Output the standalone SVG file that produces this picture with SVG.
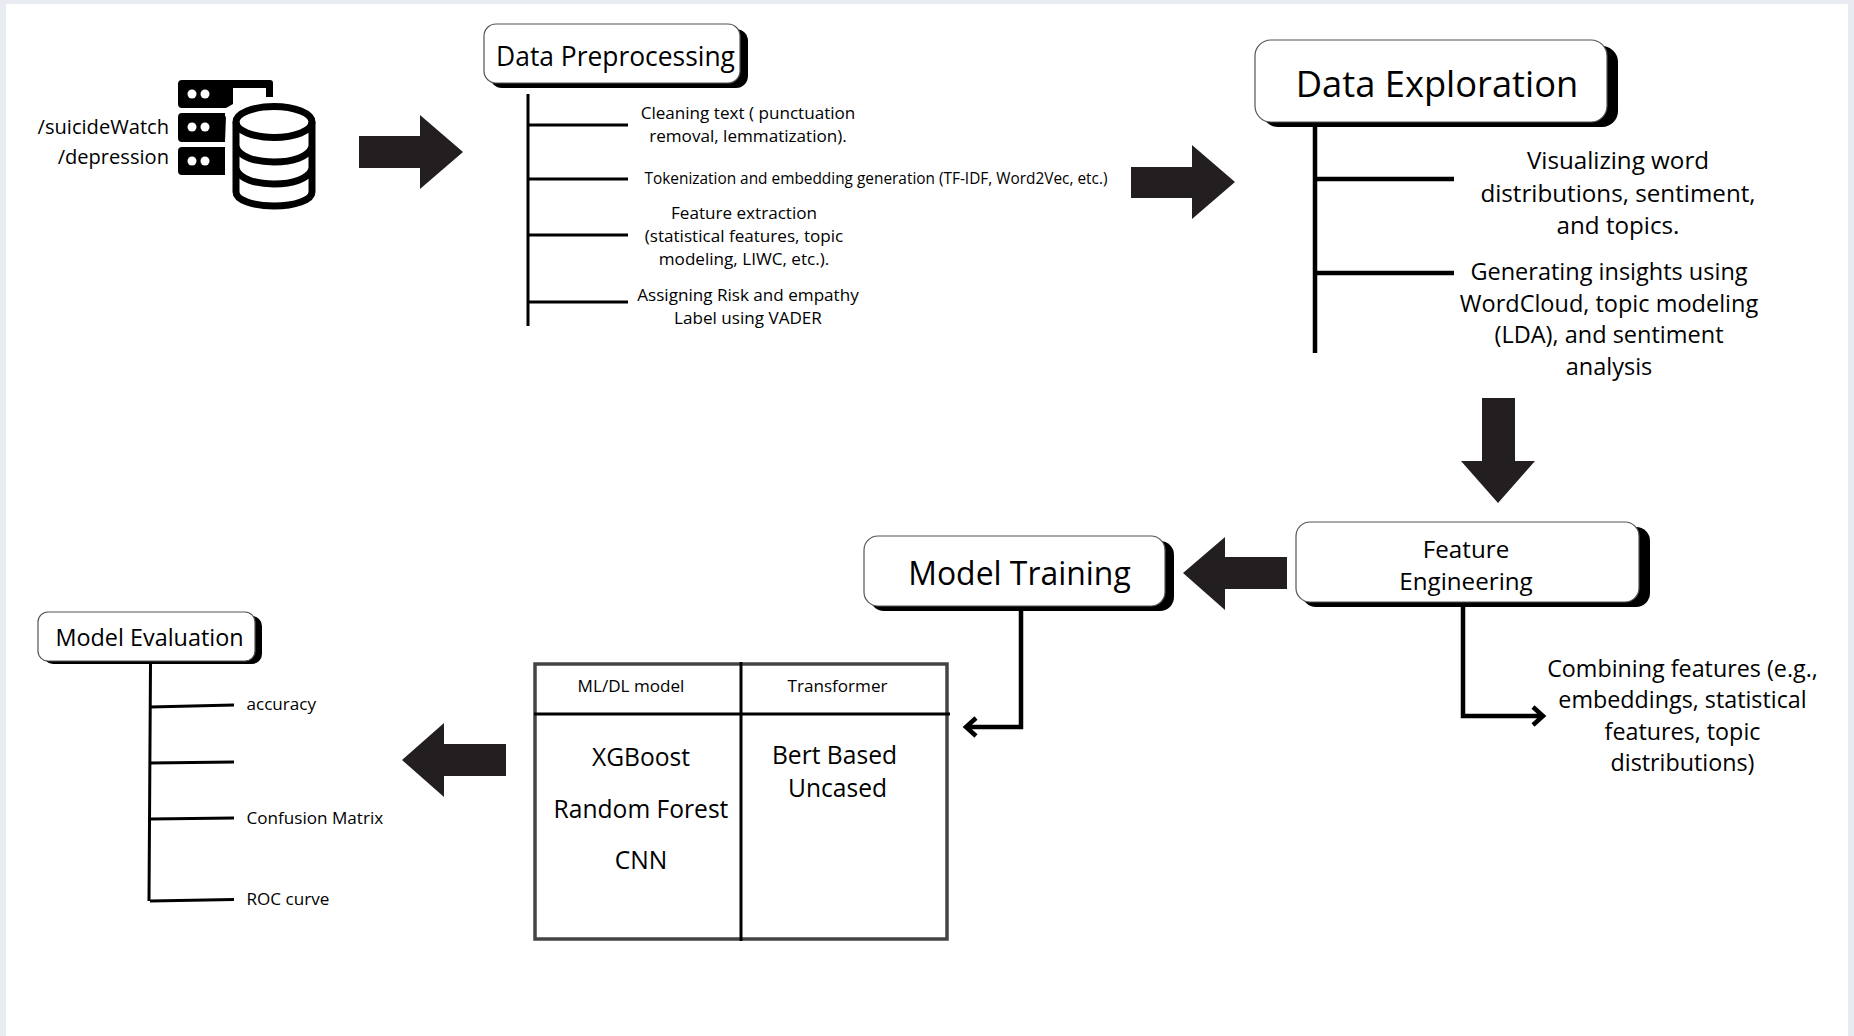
<svg xmlns="http://www.w3.org/2000/svg" width="1854" height="1036" viewBox="0 0 1854 1036">
<style>
text{font-family:"Open Sans","Noto Sans",sans-serif;fill:#000;text-anchor:middle}
.l{text-anchor:start}.r{text-anchor:end}
.box{fill:#fff;stroke:#555;stroke-width:1.2}
.sh{fill:#000}
.ln{fill:none;stroke:#000;stroke-width:3}
.th{fill:none;stroke:#000;stroke-width:4.5}
.ar{fill:#231f20}
.s16{font-size:17.100px}.s17{font-size:17.100px}.s15{font-size:15.400px}.s20{font-size:20.100px}.s24{font-size:23.500px}.s242{font-size:24.200px}.s232{font-size:23.300px}.s245{font-size:24.600px}
</style>
<rect width="1854" height="1036" fill="#e9ebf2"/>
<rect x="6" y="4" width="1842" height="1032" fill="#fff"/>
<g id="connectors">
<polygon class="ar" points="359,136 420,136 420,115 463,152 420,189 420,168 359,168"/>
<polygon class="ar" points="1131,167 1192,167 1192,145 1235,182 1192,219 1192,198 1131,198"/>
<polygon class="ar" points="1482,398 1515,398 1515,461 1535,461 1498,503 1461,461 1482,461"/>
<polygon class="ar" points="1287,557 1225,557 1225,537 1183,573 1225,610 1225,589 1287,589"/>
<polygon class="ar" points="506,744 444,744 444,723 402,760 444,797 444,776 506,776"/>
<path class="ln" d="M528 94V326M528 125H628M528 179H628M528 235H628M528 302H628"/>
<path class="th" d="M1315 127V353M1315 179H1454M1315 273H1454"/>
<path class="th" d="M1021 611V727H967M976 718L966 727L976 736"/>
<path class="th" d="M1463 607V716H1541M1533 707L1543 716L1533 725"/>
<path class="ln" d="M150.500 664L149 901M150 707L234 705M150 763L234 762M150 819L234 818M150 901L234 899.500"/>
</g>
<g id="source-icon">
<path d="M182 80H270Q273 80 273 83V97H266V88H233V104L226 108H182Q178 108 178 104V84Q178 80 182 80Z"/>
<path d="M182 113H225V118Q225 116 226 116L225 142H182Q178 142 178 138V117Q178 113 182 113Z"/>
<path d="M182 147H225V175H182Q178 175 178 171V151Q178 147 182 147Z"/>
<g fill="#fff"><circle cx="192" cy="94" r="4.500"/><circle cx="205" cy="94" r="4.500"/><circle cx="192" cy="127" r="4.500"/><circle cx="205" cy="127" r="4.500"/><circle cx="192" cy="161" r="4.500"/><circle cx="205" cy="161" r="4.500"/></g>
<ellipse cx="274" cy="122" rx="45" ry="24" fill="#fff"/>
<rect x="230" y="122" width="88" height="85" fill="#fff"/>
<g fill="none" stroke="#000" stroke-width="7">
<ellipse cx="274" cy="122" rx="38" ry="15.500"/>
<path d="M236 122V192C236 200 253 206 274 206C295 206 312 200 312 192V122"/>
<path d="M236 147C240 157 255 162 274 162C293 162 308 157 312 147"/>
<path d="M236 169C240 179 255 184 274 184C293 184 308 179 312 169"/>
</g>
<text class="r s20" x="169" y="134">/suicideWatch</text>
<text class="r s20" x="169" y="164">/depression</text>
</g>
<g id="data-preprocessing">
<rect class="sh" x="490" y="29" width="258" height="59" rx="12"/>
<rect class="box" x="484" y="24" width="256" height="59" rx="12"/>
<text style="font-size:26.400px" x="615.500" y="66">Data Preprocessing</text>
<g class="s17"><text x="748" y="119">Cleaning text ( punctuation</text><text x="748" y="142">removal, lemmatization).</text></g>
<text class="s15" x="876" y="184">Tokenization and embedding generation (TF-IDF, Word2Vec, etc.)</text>
<g class="s17"><text x="744" y="219">Feature extraction</text><text x="744" y="242">(statistical features, topic</text><text x="744" y="265">modeling, LIWC, etc.).</text>
<text x="748" y="301">Assigning Risk and empathy</text><text x="748" y="324">Label using VADER</text></g>
</g>
<g id="data-exploration">
<rect class="sh" x="1262" y="46" width="356" height="81" rx="16"/>
<rect class="box" x="1255" y="40" width="352" height="82" rx="16"/>
<text style="font-size:36.300px" x="1437" y="97">Data Exploration</text>
<g class="s242"><text x="1618" y="169">Visualizing word</text><text x="1618" y="202">distributions, sentiment,</text><text x="1618" y="234">and topics.</text></g>
<g class="s24"><text x="1609" y="280">Generating insights using</text><text x="1609" y="312">WordCloud, topic modeling</text><text x="1609" y="343">(LDA), and sentiment</text><text x="1609" y="375">analysis</text></g>
</g>
<g id="feature-engineering">
<rect class="sh" x="1302" y="527" width="348" height="80" rx="14"/>
<rect class="box" x="1296" y="522" width="343" height="80" rx="14"/>
<text class="s242" x="1466" y="558">Feature</text><text class="s242" x="1466" y="590">Engineering</text>
<g class="s232"><text x="1682.500" y="677">Combining features (e.g.,</text><text x="1682.500" y="708">embeddings, statistical</text><text x="1682.500" y="740">features, topic</text><text x="1682.500" y="771">distributions)</text></g>
</g>
<g id="model-training">
<rect class="sh" x="870" y="541" width="304" height="70" rx="14"/>
<rect class="box" x="864" y="536" width="301" height="70" rx="14"/>
<text style="font-size:31.900px" x="1019.500" y="585">Model Training</text>
</g>
<g id="model-table">
<rect x="535" y="664" width="412" height="275" fill="#fff" stroke="#444" stroke-width="3.500"/>
<path class="ln" d="M741 662V941M534 714H950"/>
<text class="s16" x="631" y="692">ML/DL model</text><text class="s16" x="837.500" y="692">Transformer</text>
<g class="s245"><text x="641" y="766">XGBoost</text><text x="641" y="818">Random Forest</text><text x="641" y="869">CNN</text>
<text x="834.500" y="764">Bert Based</text><text x="837.500" y="797">Uncased</text></g>
</g>
<g id="model-evaluation">
<rect class="sh" x="43" y="616" width="219" height="48" rx="10"/>
<rect class="box" x="38" y="612" width="217" height="49" rx="10"/>
<text style="font-size:23.400px" x="149.500" y="646">Model Evaluation</text>
<g class="s16"><text class="l" x="246.500" y="710">accuracy</text><text class="l" x="246.500" y="824">Confusion Matrix</text><text class="l" x="246.500" y="905">ROC curve</text></g>
</g>
</svg>
